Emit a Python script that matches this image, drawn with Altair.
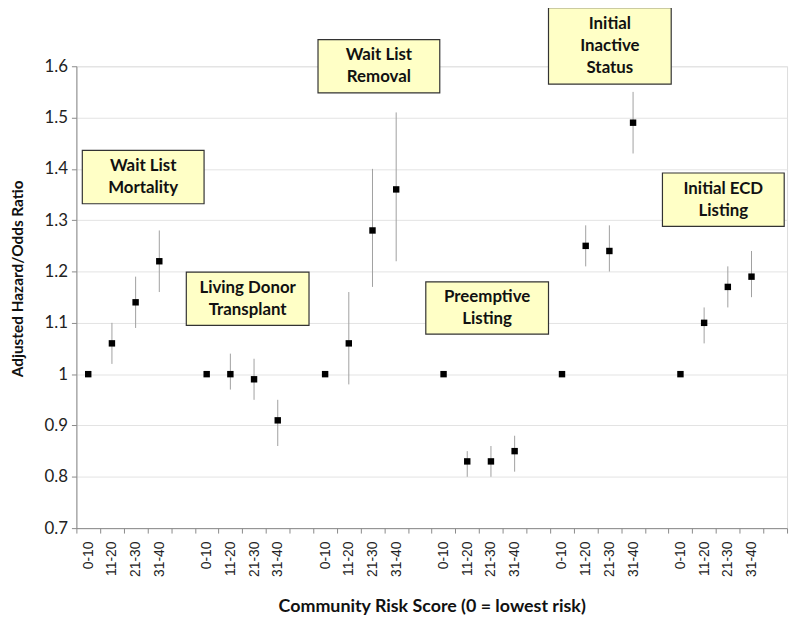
import altair as alt
import pandas as pd

# ---- data ----
groups = ["Wait List Mortality", "Living Donor Transplant", "Wait List Removal",
          "Preemptive Listing", "Initial Inactive Status", "Initial ECD Listing"]
categories = ["0-10", "11-20", "21-30", "31-40"]

ratio_mortality = [1.00, 1.06, 1.14, 1.22]
lower_mortality = [None, 1.02, 1.09, 1.16]
upper_mortality = [None, 1.10, 1.19, 1.28]

ratio_living = [1.00, 1.00, 0.99, 0.91]
lower_living = [None, 0.97, 0.95, 0.86]
upper_living = [None, 1.04, 1.03, 0.95]

ratio_removal = [1.00, 1.06, 1.28, 1.36]
lower_removal = [None, 0.98, 1.17, 1.22]
upper_removal = [None, 1.16, 1.40, 1.51]

ratio_preempt = [1.00, 0.83, 0.83, 0.85]
lower_preempt = [None, 0.80, 0.80, 0.81]
upper_preempt = [None, 0.85, 0.86, 0.88]

ratio_inactive = [1.00, 1.25, 1.24, 1.49]
lower_inactive = [None, 1.21, 1.20, 1.43]
upper_inactive = [None, 1.29, 1.29, 1.55]

ratio_ecd = [1.00, 1.10, 1.17, 1.19]
lower_ecd = [None, 1.06, 1.13, 1.15]
upper_ecd = [None, 1.13, 1.21, 1.24]

ratios = [ratio_mortality, ratio_living, ratio_removal, ratio_preempt, ratio_inactive, ratio_ecd]
lowers = [lower_mortality, lower_living, lower_removal, lower_preempt, lower_inactive, lower_ecd]
uppers = [upper_mortality, upper_living, upper_removal, upper_preempt, upper_inactive, upper_ecd]

# annotation boxes (label lines, slot-unit x range, value y range)
box_labels = [["Wait List", "Mortality"], ["Living Donor", "Transplant"], ["Wait List", "Removal"],
              ["Preemptive", "Listing"], ["Initial", "Inactive", "Status"], ["Initial ECD", "Listing"]]
box_x1 = [0.25, 4.64, 10.20, 14.75, 19.93, 24.74]
box_x2 = [5.39, 9.82, 15.34, 19.93, 25.11, 29.88]
box_y1 = [1.332, 1.095, 1.548, 1.078, 1.565, 1.288]
box_y2 = [1.436, 1.199, 1.652, 1.180, 1.714, 1.392]
line_step = 0.0425  # vertical distance between text lines, in ratio units

# ---- build tables ----
domain = []
rows = []
for gi, g in enumerate(groups):
    for ci, c in enumerate(categories):
        key = f"{gi}|{c}"
        domain.append(key)
        rows.append({"slot": key, "ratio": ratios[gi][ci],
                     "lower": lowers[gi][ci], "upper": uppers[gi][ci]})
    domain.append(f"{gi}|")
df = pd.DataFrame(rows)
df_ci = df.dropna(subset=["lower"])

boxes = pd.DataFrame({"x1": box_x1, "x2": box_x2, "y1": box_y1, "y2": box_y2})
line_rows = []
for bi, lines in enumerate(box_labels):
    n = len(lines)
    xc = (box_x1[bi] + box_x2[bi]) / 2
    yc = (box_y1[bi] + box_y2[bi]) / 2
    for li, t in enumerate(lines):
        line_rows.append({"text": t, "xc": xc, "yc": yc + ((n - 1) / 2 - li) * line_step})
lines_df = pd.DataFrame(line_rows)

yscale = alt.Scale(domain=[0.7, 1.6], nice=False, zero=False)
xscale = alt.Scale(domain=domain, paddingInner=0, paddingOuter=0)

xaxis = alt.Axis(
    title="Community Risk Score (0 = lowest risk)",
    labelExpr="split(datum.value, '|')[1]",
    labelAngle=-90, labelFont="Liberation Sans", labelFontSize=14, labelColor="#222222",
    labelPadding=8, tickBand="extent", tickColor="#8a8a8a", tickSize=5,
    domainColor="#8a8a8a", grid=False,
    titleFont="Lato", titleFontSize=18, titleFontWeight="bold", titleColor="#111111",
    titleY=70, titleBaseline="top",
)
yaxis = alt.Axis(
    title="Adjusted Hazard/Odds Ratio", values=[0.7, 0.8, 0.9, 1.0, 1.1, 1.2, 1.3, 1.4, 1.5, 1.6],
    format=".1~f", labelFont="Lato", labelFontSize=17, labelColor="#222222", labelPadding=4,
    tickColor="#8a8a8a", tickSize=5, domainColor="#8a8a8a",
    grid=True, gridColor="#e3e3e3",
    titleFont="Lato", titleFontSize=15.5, titleFontWeight="bold", titleColor="#111111",
    titleX=-59, titleY=214, titleBaseline="middle", titleAlign="center",
)

ci = alt.Chart(df_ci).mark_rule(color="#a0a0a0", strokeWidth=1).encode(
    x=alt.X("slot:N", scale=xscale, axis=xaxis, sort=domain),
    y=alt.Y("lower:Q", scale=yscale, axis=yaxis),
    y2="upper:Q",
)
pts = alt.Chart(df).mark_square(color="black", size=42, opacity=1).encode(
    x=alt.X("slot:N", scale=xscale, axis=xaxis, sort=domain),
    y=alt.Y("ratio:Q", scale=yscale, axis=yaxis),
)

bscale = alt.Scale(domain=[0, 30], nice=False, zero=False)
rects = alt.Chart(boxes).mark_rect(fill="#ffffc6", stroke="#333333", strokeWidth=1.2, clip=False).encode(
    x=alt.X("x1:Q", scale=bscale, axis=None),
    x2="x2:Q",
    y=alt.Y("y1:Q", scale=yscale, axis=yaxis),
    y2="y2:Q",
)
texts = alt.Chart(lines_df).mark_text(
    font="Lato", fontSize=17, fontWeight="bold", color="#111111",
    align="center", baseline="middle",
).encode(
    x=alt.X("xc:Q", scale=bscale, axis=None),
    y=alt.Y("yc:Q", scale=yscale, axis=yaxis),
    text="text:N",
)

points_layer = alt.layer(ci, pts)
box_layer = alt.layer(rects, texts)

chart = alt.layer(points_layer, box_layer).resolve_scale(x="independent").properties(
    width=717, height=466,
    autosize=alt.AutoSizeParams(type="none"),
    padding={"left": 69, "top": 56, "right": 5, "bottom": 96},
).configure_view(stroke="#8a8a8a", strokeWidth=1).configure(background="white")

chart.save("out.html", embed_options={"renderer": "svg", "actions": False})
